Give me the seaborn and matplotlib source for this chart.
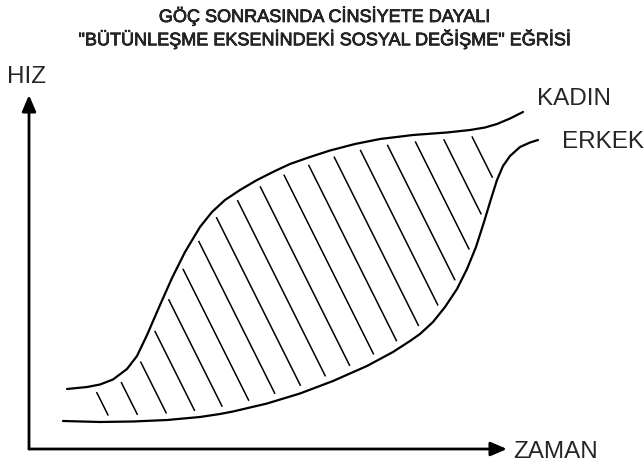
import numpy as np
import pandas as pd
import matplotlib
matplotlib.use("Agg")
import matplotlib.pyplot as plt
import matplotlib.patheffects as pe
import seaborn as sns

# ---- data (ZAMAN 0-100 on x, HIZ 0-100 on y) ----
kadin_x = [7.95, 12.13, 14.85, 17.57, 20.50, 22.59, 24.69, 27.41, 29.92, 32.64,
           35.77, 38.28, 41.00, 44.14, 47.70, 51.46, 54.60, 58.79, 62.97, 68.20,
           73.43, 80.33, 87.45, 92.26, 95.40, 97.91, 100.63, 103.35]
kadin_y = [16.95, 17.51, 18.22, 19.63, 22.60, 26.27, 32.20, 40.68, 48.31, 55.65,
           62.71, 66.95, 70.34, 73.16, 75.99, 78.53, 80.51, 82.49, 84.32, 86.16,
           87.57, 88.70, 89.41, 90.11, 90.82, 91.81, 93.36, 95.20]
erkek_x = [7.11, 14.85, 21.76, 28.87, 35.77, 39.96, 42.68, 49.79, 56.69, 63.60,
           70.71, 76.15, 79.71, 81.80, 84.52, 87.03, 89.54, 91.63, 93.51, 95.19,
           96.65, 97.91, 99.16, 100.63, 102.72, 104.81, 106.49]
erkek_y = [7.91, 7.63, 7.77, 8.19, 9.04, 9.89, 10.59, 12.85, 15.68, 19.21,
           23.45, 27.40, 30.51, 32.49, 35.88, 40.11, 45.20, 50.85, 57.06, 64.12,
           70.62, 75.99, 79.94, 82.77, 85.31, 86.58, 87.29]
series_names = ["KADIN", "ERKEK"]
title_lines = ["GÖÇ SONRASINDA CİNSİYETE DAYALI",
               "\"BÜTÜNLEŞME EKSENİNDEKİ SOSYAL DEĞİŞME\" EĞRİSİ"]
x_label = "ZAMAN"
y_label = "HIZ"

df = pd.concat([
    pd.DataFrame({"zaman": kadin_x, "hiz": kadin_y, "seri": series_names[0]}),
    pd.DataFrame({"zaman": erkek_x, "hiz": erkek_y, "seri": series_names[1]}),
], ignore_index=True)

sns.set_theme(style="white")
plt.rcParams["font.family"] = ["Liberation Sans", "DejaVu Sans"]

W, H = 644, 465
fig = plt.figure(figsize=(W / 100, H / 100), dpi=100)
fig.patch.set_facecolor("white")
ax = fig.add_axes([29 / W, 16 / H, 478 / W, 354 / H])
ax.set_xlim(0, 100)
ax.set_ylim(0, 100)
ax.set_axis_off()

sns.lineplot(data=df, x="zaman", y="hiz", hue="seri", units="seri",
             estimator=None, sort=False, palette=["black", "black"],
             linewidth=1.6, legend=False, ax=ax)
for ln in ax.lines:
    ln.set_clip_on(False)
    ln.set_solid_capstyle("round")
    ln.set_solid_joinstyle("round")

# axis arrows
arrow_kw = dict(arrowstyle="-|>,head_length=0.7,head_width=0.3", lw=2.0,
                color="black", shrinkA=0, shrinkB=0, mutation_scale=14)
ax.annotate("", xy=(1, 0), xytext=(0, 0), xycoords="axes fraction",
            arrowprops=arrow_kw, annotation_clip=False)
ax.annotate("", xy=(0, 1), xytext=(0, 0), xycoords="axes fraction",
            arrowprops=arrow_kw, annotation_clip=False)

# hatching between the curves (slanted lines, not touching the curves)
fig.canvas.draw()
upper = ax.transData.transform(np.column_stack([kadin_x, kadin_y]))
lower = ax.transData.transform(np.column_stack([erkek_x, erkek_y]))
slope = 0.5      # dx per dy (image pixels, y downward)
c0, step, n_lines, gap = -99.5, 29.6, 18, 7.0


def crossing(pts, c):
    xs, ys = pts[:, 0], pts[:, 1]
    g = xs - (c + slope * (H - ys))
    for i in range(len(g) - 1):
        if g[i] == 0:
            return pts[i]
        if g[i] * g[i + 1] < 0:
            t = g[i] / (g[i] - g[i + 1])
            return pts[i] + t * (pts[i + 1] - pts[i])
    return None


inv = ax.transData.inverted()
for k in range(n_lines):
    c = c0 + k * step
    p_top = crossing(upper, c)
    p_bot = crossing(lower, c)
    if p_top is None or p_bot is None:
        continue
    d = p_bot - p_top
    L = np.hypot(*d)
    if L < 2 * gap + 3:
        continue
    u = d / L
    a = p_top + u * gap
    b = p_bot - u * gap
    seg = inv.transform(np.vstack([a, b]))
    ax.plot(seg[:, 0], seg[:, 1], color="black", lw=1.1, clip_on=False,
            solid_capstyle="butt")

# texts
title_font = ["Liberation Sans Narrow", "Liberation Sans", "DejaVu Sans"]
thick = [pe.withStroke(linewidth=0.5, foreground="black")]
fig.text(324 / W, 1 - 16 / H, title_lines[0], ha="center", va="center",
         fontsize=13, family=title_font, path_effects=thick)
fig.text(324 / W, 1 - 39 / H, title_lines[1], ha="center", va="center",
         fontsize=13, family=title_font, path_effects=thick)
fig.text(7 / W, 1 - 77 / H, y_label, ha="left", va="center", fontsize=17.5)
fig.text(513 / W, 1 - 452 / H, x_label, ha="left", va="center", fontsize=17.5)
fig.text(537 / W, 1 - 99 / H, series_names[0], ha="left", va="center", fontsize=17.5)
fig.text(562 / W, 1 - 142 / H, series_names[1], ha="left", va="center", fontsize=17.5)

fig.savefig("out.png", dpi=100, facecolor="white")
